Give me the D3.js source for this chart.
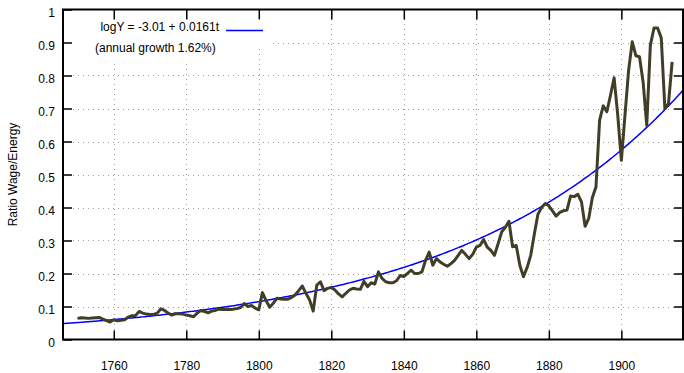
<!DOCTYPE html>
<html>
<head>
<meta charset="utf-8">
<script src="https://cdn.jsdelivr.net/npm/d3@7"></script>
<style>
  html, body { margin: 0; padding: 0; background: #fff; }
  svg { display: block; font-family: "Liberation Sans", Arial, sans-serif; }
</style>
</head>
<body>
<svg id="chart" width="684" height="373"></svg>
<script>
// ---- data ----
const firstYear = 1750;
const lastYear = 1914;
const ratio = [
  0.064,0.066,0.065,0.064,0.065,0.066,0.067,0.062,0.057,0.053, // 1750s
  0.060,0.057,0.058,0.060,0.068,0.072,0.073,0.085,0.080,0.077, // 1760s
  0.076,0.076,0.080,0.093,0.088,0.080,0.074,0.078,0.078,0.077, // 1770s
  0.074,0.072,0.069,0.080,0.088,0.085,0.081,0.086,0.088,0.092, // 1780s
  0.091,0.092,0.091,0.092,0.094,0.097,0.109,0.100,0.103,0.095, // 1790s
  0.090,0.142,0.118,0.098,0.110,0.125,0.123,0.122,0.122,0.127, // 1800s
  0.135,0.148,0.162,0.140,0.120,0.086,0.165,0.175,0.148,0.155, // 1810s
  0.158,0.150,0.138,0.129,0.140,0.150,0.155,0.153,0.152,0.176, // 1820s
  0.160,0.172,0.168,0.205,0.185,0.175,0.172,0.172,0.178,0.194, // 1830s
  0.191,0.200,0.210,0.200,0.200,0.205,0.240,0.265,0.225,0.245, // 1840s
  0.235,0.228,0.222,0.230,0.240,0.255,0.270,0.258,0.245,0.258, // 1850s
  0.280,0.285,0.303,0.280,0.270,0.255,0.290,0.326,0.340,0.358, // 1860s
  0.281,0.285,0.225,0.190,0.218,0.255,0.320,0.380,0.400,0.412, // 1870s
  0.405,0.390,0.374,0.385,0.390,0.392,0.435,0.433,0.440,0.417, // 1880s
  0.343,0.367,0.430,0.462,0.665,0.708,0.690,0.740,0.793,0.680, // 1890s
  0.543,0.680,0.816,0.902,0.860,0.857,0.780,0.649,0.892,0.944, // 1900s
  0.944,0.914,0.700,0.715,0.841                                // 1910s
];
const years = d3.range(firstYear, lastYear + 1);

// fitted trend shown in the key: logY = a + b t
const fitA = -3.01;
const fitB = 0.0161;
const fitT0 = 1747.5;
const fitLabel = "logY = -3.01 + 0.0161t";
const fitNote = "(annual growth 1.62%)";

const xDomain = [1746, 1917];
const yDomain = [0, 1];
const xTicks = [1760, 1780, 1800, 1820, 1840, 1860, 1880, 1900];
const yTicks = [0, 0.1, 0.2, 0.3, 0.4, 0.5, 0.6, 0.7, 0.8, 0.9, 1];
const yTitle = "Ratio Wage/Energy";

// ---- layout ----
const L = 63, R = 683, T = 9.5, B = 339.5;
const svg = d3.select("#chart");
const x = d3.scaleLinear().domain(xDomain).range([L, R]);
const y = d3.scaleLinear().domain(yDomain).range([B, T]);

svg.append("defs").append("clipPath").attr("id", "clip")
  .append("rect").attr("x", L).attr("y", T).attr("width", R - L).attr("height", B - T);

// grid
const grid = svg.append("g").attr("stroke", "#9a9a9a").attr("stroke-width", 1)
  .attr("stroke-dasharray", "1,4").attr("shape-rendering", "crispEdges");
grid.selectAll("line.gx").data(xTicks).join("line")
  .attr("x1", d => Math.round(x(d)) + 0.5).attr("x2", d => Math.round(x(d)) + 0.5)
  .attr("y1", B).attr("y2", T);
grid.selectAll("line.gy").data(yTicks.slice(1, -1)).join("line")
  .attr("y1", d => Math.round(y(d)) + 0.5).attr("y2", d => Math.round(y(d)) + 0.5)
  .attr("x1", L).attr("x2", R);

// key background (opaque)
svg.append("rect").attr("x", L + 1).attr("y", T + 1).attr("width", 207).attr("height", 37).attr("fill", "#fff");
svg.append("rect").attr("x", L + 1).attr("y", T + 37).attr("width", 180).attr("height", 16).attr("fill", "#fff");

// fit curve
const fitYears = d3.range(xDomain[0], xDomain[1] + 0.5, 0.5);
svg.append("path")
  .attr("clip-path", "url(#clip)")
  .attr("fill", "none").attr("stroke", "#0000ff").attr("stroke-width", 1.5)
  .attr("d", d3.line().x(d => x(d)).y(d => y(Math.exp(fitA + fitB * (d - fitT0))))(fitYears));

// data line
svg.append("path")
  .attr("clip-path", "url(#clip)")
  .attr("fill", "none").attr("stroke", "#413e28").attr("stroke-width", 3)
  .attr("stroke-linejoin", "round")
  .attr("d", d3.line().x((d, i) => x(years[i])).y(d => y(d))(ratio));

// axes
const fmtY = d => (d === 0 ? "0" : d === 1 ? "1" : d3.format(".1f")(d));
const axB = svg.append("g").attr("transform", `translate(0,${B})`)
  .call(d3.axisBottom(x).tickValues(xTicks).tickFormat(d3.format("d")).tickSizeInner(-9).tickSizeOuter(0).tickPadding(22));
const axT = svg.append("g").attr("transform", `translate(0,${T})`)
  .call(d3.axisTop(x).tickValues(xTicks).tickFormat("").tickSizeInner(-10).tickSizeOuter(0));
const axLft = svg.append("g").attr("transform", `translate(${L},0)`)
  .call(d3.axisLeft(y).tickValues(yTicks).tickFormat(fmtY).tickSizeInner(-9).tickSizeOuter(0).tickPadding(8));
const axRt = svg.append("g").attr("transform", `translate(${R},0)`)
  .call(d3.axisRight(y).tickValues(yTicks.slice(1, -1)).tickFormat("").tickSizeInner(-9).tickSizeOuter(0));
[axB, axT, axLft, axRt].forEach(g => {
  g.select(".domain").remove();
  g.selectAll(".tick line").attr("stroke", "#000").attr("stroke-width", 1.5);
  g.selectAll("text").attr("fill", "#000").attr("font-size", 12)
    .attr("font-family", '"Liberation Sans", Arial, sans-serif');
});
axLft.selectAll("text").attr("dy", "0.62em");

// frame
svg.append("rect").attr("x", L).attr("y", T).attr("width", R - L).attr("height", B - T)
  .attr("fill", "none").attr("stroke", "#000").attr("stroke-width", 2);

// key
svg.append("text").attr("x", 219).attr("y", 31).attr("text-anchor", "end")
  .attr("font-size", 12).attr("fill", "#000").text(fitLabel);
svg.append("line").attr("x1", 226).attr("x2", 263).attr("y1", 30.5).attr("y2", 30.5)
  .attr("stroke", "#0000ff").attr("stroke-width", 1.5);
svg.append("text").attr("x", 95).attr("y", 52).attr("font-size", 12).attr("fill", "#000").text(fitNote);

// y title
svg.append("text").attr("transform", `translate(17,${(T + B) / 2}) rotate(-90)`)
  .attr("text-anchor", "middle").attr("font-size", 12).attr("fill", "#000").text(yTitle);
</script>
</body>
</html>
